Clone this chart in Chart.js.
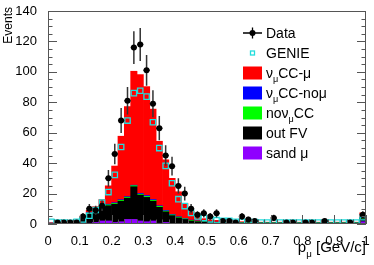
<!DOCTYPE html>
<html>
<head>
<meta charset="utf-8">
<script src="https://cdn.jsdelivr.net/npm/chart.js@4.4.1/dist/chart.umd.min.js"></script>
<style>
  html, body { margin: 0; padding: 0; background: #fff; }
  #wrap { width: 374px; height: 265px; }
</style>
</head>
<body>
<div id="wrap"><canvas id="muonChart" width="374" height="265"></canvas></div>
<script>
// p_mu bins, 0.02 GeV/c wide
const binCenters = [
  0.01, 0.03, 0.05, 0.07, 0.09, 0.11, 0.13, 0.15, 0.17, 0.19,
  0.21, 0.23, 0.25, 0.27, 0.29, 0.31, 0.33, 0.35, 0.37, 0.39,
  0.41, 0.43, 0.45, 0.47, 0.49, 0.51, 0.53, 0.55, 0.57, 0.59,
  0.61, 0.63, 0.65, 0.67, 0.69, 0.71, 0.73, 0.75, 0.77, 0.79,
  0.81, 0.83, 0.85, 0.87, 0.89, 0.91, 0.93, 0.95, 0.97, 0.99
];
const halfBin = 0.01;

// MC stack, bottom to top
const sandMu = [
  0, 0, 0, 0, 0, 0.5, 0.5, 1, 2, 2,
  1, 1.5, 3, 3, 2, 1.5, 2, 0.5, 1, 0.3,
  0.3, 0.3, 0.2, 0.2, 0.2, 0.1, 0.1, 0.1, 0.1, 0.1,
  0.1, 0.1, 0.1, 0.1, 0.1, 0.1, 0.1, 0.1, 0.1, 0.1,
  0.1, 0.1, 0.1, 0.1, 0.1, 0.1, 0.1, 0.1, 0.1, 1.5
];
const outFV = [
  0.3, 0.3, 0.3, 0.3, 1.5, 3, 6, 7.5, 9, 10,
  12, 13.5, 14, 21.5, 17, 16, 13, 10.5, 7, 5.2,
  3.7, 2.7, 1.8, 1.3, 1, 0.9, 0.7, 0.6, 0.4, 0.4,
  0.4, 0.4, 0.4, 0.4, 0.4, 0.4, 0.4, 0.4, 0.4, 0.4,
  0.4, 0.4, 0.4, 0.4, 0.4, 0.4, 0.4, 0.4, 0.4, 2
];
const noNumuCC = [
  0.2, 0.2, 0.2, 0.2, 0.3, 0.6, 0.6, 0.6, 0.6, 0.6,
  0.6, 0.6, 0.6, 0.7, 0.6, 0.6, 0.6, 0.6, 0.5, 0.5,
  0.5, 0.4, 0.4, 0.3, 0.3, 0.3, 0.3, 0.3, 0.3, 0.3,
  0.3, 0.3, 0.3, 0.3, 0.3, 0.3, 0.3, 0.3, 0.3, 0.3,
  0.3, 0.3, 0.3, 0.3, 0.3, 0.3, 0.3, 0.3, 0.3, 0.5
];
const numuNoMu = [
  0.1, 0.1, 0.1, 0.1, 0.2, 0.3, 0.3, 0.3, 0.4, 0.4,
  0.4, 0.4, 0.4, 0.3, 0.5, 0.6, 0.5, 0.4, 0.4, 0.3,
  0.3, 0.2, 0.2, 0.2, 0.2, 0.1, 0.1, 0.1, 0.1, 0.1,
  0.1, 0.1, 0.1, 0.1, 0.1, 0.1, 0.1, 0.1, 0.1, 0.1,
  0.1, 0.1, 0.1, 0.1, 0.1, 0.1, 0.1, 0.1, 0.1, 0.3
];
const numuMu = [
  0.3, 0.3, 0.3, 0.3, 0.6, 0.8, 1.6, 2, 4.1, 12.1,
  24.1, 41.7, 59.1, 74.9, 78.1, 71.6, 59.4, 42.4, 33.3, 23.7,
  16.4, 10, 5.5, 2.8, 1.8, 1.3, 1.2, 0.9, 1, 0.7,
  0.6, 0.5, 0.5, 0.3, 0.3, 0.3, 0.3, 0.3, 0.3, 0.3,
  0.3, 0.3, 0.3, 0.3, 0.3, 0.3, 0.3, 0.3, 0.3, 3
];

const genie = [
  1.5, 1, 1, 0.8, 1.5, 3, 5.4, 9.2, 14, 21,
  32.3, 50.6, 68, 86, 87.6, 83.7, 66.9, 49.9, 38.2, 26.8,
  16.3, 11.8, 7.3, 5, 4, 3, 2.5, 2, 2, 1.5,
  1.5, 1.2, 1.2, 1, 1, 1, 1, 1, 1, 1,
  1, 1, 1, 1, 1, 1, 1, 1, 1, 4.5
];

const dataCounts = [
  null, 1, 1, 1, 1, 5, 10, 9, 12, 30,
  46, 68, 81, 116, 118, 101, 79, 63, 45, 38,
  25, 20, 10, 6, 7, 5, 7, 2, 2, 1,
  5, 3, 2, null, null, 4, null, 1, 1, null,
  1, 1, null, 2, null, null, null, 1, null, 6
];

const yTicks = [0, 20, 40, 60, 80, 100, 120, 140];
const xTicks = [0, 0.1, 0.2, 0.3, 0.4, 0.5, 0.6, 0.7, 0.8, 0.9, 1];

const FONT = "'Liberation Sans', Arial, sans-serif";
const AXIS = '#555';
const GENIE_COLOR = '#22dddd';

function pts(values) {
  return values.map((v, i) => ({ x: binCenters[i], y: v }));
}

function drawRich(ctx, x, y, parts, size) {
  let cx = x;
  parts.forEach(([t, sub]) => {
    ctx.font = (sub ? size * 0.65 : size) + 'px ' + FONT;
    ctx.fillText(t, cx, sub ? y + size * 0.32 : y);
    cx += ctx.measureText(t).width;
  });
  return cx;
}

const legendRows = [
  { kind: 'data', parts: [['Data']] },
  { kind: 'genie', parts: [['GENIE']] },
  { kind: 'box', color: '#ff0000', parts: [['ν'], ['μ', 1], ['CC-μ']] },
  { kind: 'box', color: '#0000ff', parts: [['ν'], ['μ', 1], ['CC-noμ']] },
  { kind: 'box', color: '#00ff00', parts: [['no'], ['ν'], ['μ', 1], ['CC']] },
  { kind: 'box', color: '#000000', parts: [['out FV']] },
  { kind: 'box', color: '#8f00ff', parts: [['sand μ']] }
];

const hepFrame = {
  id: 'hepFrame',
  beforeDatasetDraw(chart, args) {
    if (chart.data.datasets[args.index].label !== 'Data') return;
    const { ctx, scales: { x, y } } = chart;
    ctx.save();
    ctx.strokeStyle = '#333';
    ctx.lineWidth = 1.5;
    dataCounts.forEach((n, i) => {
      if (n === null) return;
      const e = Math.sqrt(n);
      const px = x.getPixelForValue(binCenters[i]);
      const py = y.getPixelForValue(n);
      ctx.beginPath();
      ctx.moveTo(px, y.getPixelForValue(n + e));
      ctx.lineTo(px, y.getPixelForValue(Math.max(0, n - e)));
      ctx.moveTo(x.getPixelForValue(binCenters[i] - halfBin), py);
      ctx.lineTo(x.getPixelForValue(binCenters[i] + halfBin), py);
      ctx.stroke();
    });
    ctx.restore();
  },
  afterDatasetsDraw(chart) {
    const { ctx, chartArea: a, scales: { x, y } } = chart;
    ctx.save();
    ctx.strokeStyle = AXIS;
    ctx.lineWidth = 1;
    ctx.strokeRect(a.left + 0.5, a.top + 0.5, a.right - a.left - 1, a.bottom - a.top - 1);
    ctx.beginPath();
    for (let v = 0; v <= 140; v += 5) {
      const py = Math.round(y.getPixelForValue(v)) + 0.5;
      const len = v % 20 === 0 ? 9 : 4.5;
      ctx.moveTo(a.left, py); ctx.lineTo(a.left + len, py);
      ctx.moveTo(a.right, py); ctx.lineTo(a.right - len, py);
    }
    for (let k = 0; k <= 50; k++) {
      const px = Math.round(x.getPixelForValue(k * 0.02)) + 0.5;
      const len = k % 5 === 0 ? 9 : 4.5;
      ctx.moveTo(px, a.bottom); ctx.lineTo(px, a.bottom - len);
    }
    ctx.stroke();
    ctx.restore();
  },
  afterDraw(chart) {
    const { ctx, chartArea: a } = chart;
    ctx.save();
    ctx.fillStyle = '#000';
    ctx.textBaseline = 'alphabetic';

    // axis titles
    ctx.save();
    ctx.translate(12, a.top - 4);
    ctx.rotate(-Math.PI / 2);
    ctx.textAlign = 'right';
    ctx.font = '12px ' + FONT;
    ctx.fillText('Events', 0, 0);
    ctx.restore();

    ctx.textAlign = 'left';
    ctx.font = '15px ' + FONT;
    const unitW = ctx.measureText(' [GeV/c]').width;
    ctx.font = '15px ' + FONT;
    const pW = ctx.measureText('p').width;
    ctx.font = (15 * 0.65) + 'px ' + FONT;
    const muW = ctx.measureText('μ').width;
    drawRich(ctx, a.right - unitW - muW - pW, 252, [['p'], ['μ', 1], [' [GeV/c]']], 15);

    // legend
    const lx = 243, lw = 19, tx = 266;
    legendRows.forEach((row, i) => {
      const cy = 33 + 20 * i;
      if (row.kind === 'data') {
        ctx.strokeStyle = '#000';
        ctx.lineWidth = 1.3;
        ctx.beginPath();
        ctx.moveTo(lx, cy); ctx.lineTo(lx + lw, cy);
        ctx.moveTo(lx + lw / 2, cy - 5.5); ctx.lineTo(lx + lw / 2, cy + 5.5);
        ctx.stroke();
        ctx.beginPath();
        ctx.arc(lx + lw / 2, cy, 3, 0, Math.PI * 2);
        ctx.fill();
      } else if (row.kind === 'genie') {
        ctx.strokeStyle = GENIE_COLOR;
        ctx.lineWidth = 1.3;
        ctx.strokeRect(lx + lw / 2 - 2, cy - 2, 4, 4);
      } else {
        ctx.fillStyle = row.color;
        ctx.fillRect(lx, cy - 6.5, lw, 13);
        ctx.fillStyle = '#000';
      }
      drawRich(ctx, tx, cy + 5, row.parts, 14);
    });
    ctx.restore();
  }
};

const barDefaults = { stack: 'mc', order: 2, borderWidth: 0 };

new Chart(document.getElementById('muonChart'), {
  type: 'bar',
  data: {
    datasets: [
      { ...barDefaults, label: 'sand μ', data: pts(sandMu), backgroundColor: '#8f00ff' },
      { ...barDefaults, label: 'out FV', data: pts(outFV), backgroundColor: '#000000' },
      { ...barDefaults, label: 'noνμCC', data: pts(noNumuCC), backgroundColor: '#00ff00' },
      { ...barDefaults, label: 'νμCC-noμ', data: pts(numuNoMu), backgroundColor: '#0000ff' },
      { ...barDefaults, label: 'νμCC-μ', data: pts(numuMu), backgroundColor: '#ff0000' },
      {
        type: 'line', label: 'GENIE', data: pts(genie), stack: 'genie', order: 1,
        showLine: false, pointStyle: 'rect', pointRadius: 3.8, pointBorderWidth: 1.3,
        pointBorderColor: GENIE_COLOR, pointBackgroundColor: 'rgba(0,0,0,0)'
      },
      {
        type: 'line', label: 'Data', data: pts(dataCounts), stack: 'data', order: 0,
        showLine: false, pointRadius: 3, pointBorderWidth: 0,
        pointBackgroundColor: '#000', pointBorderColor: '#000'
      }
    ]
  },
  options: {
    responsive: false,
    animation: false,
    devicePixelRatio: 1,
    layout: { padding: { top: 11, right: 8, left: 0, bottom: 0 } },
    datasets: { bar: { barPercentage: 1, categoryPercentage: 1, grouped: false } },
    plugins: { legend: { display: false }, tooltip: { enabled: false } },
    scales: {
      x: {
        type: 'linear', min: 0, max: 1, offset: false,
        grid: { display: false }, border: { display: false },
        afterBuildTicks: s => { s.ticks = xTicks.map(v => ({ value: v })); },
        ticks: { padding: 2, color: '#000', font: { family: FONT, size: 13 }, maxRotation: 0, callback: v => String(+v.toFixed(1)) },
        afterFit: s => { s.height = 41; }
      },
      y: {
        stacked: true, min: 0, max: 140,
        grid: { display: false }, border: { display: false },
        afterBuildTicks: s => { s.ticks = yTicks.map(v => ({ value: v })); },
        ticks: { padding: 3, color: '#000', font: { family: FONT, size: 13 } },
        afterFit: s => { s.width = 48; }
      }
    }
  },
  plugins: [hepFrame]
});
</script>
</body>
</html>
